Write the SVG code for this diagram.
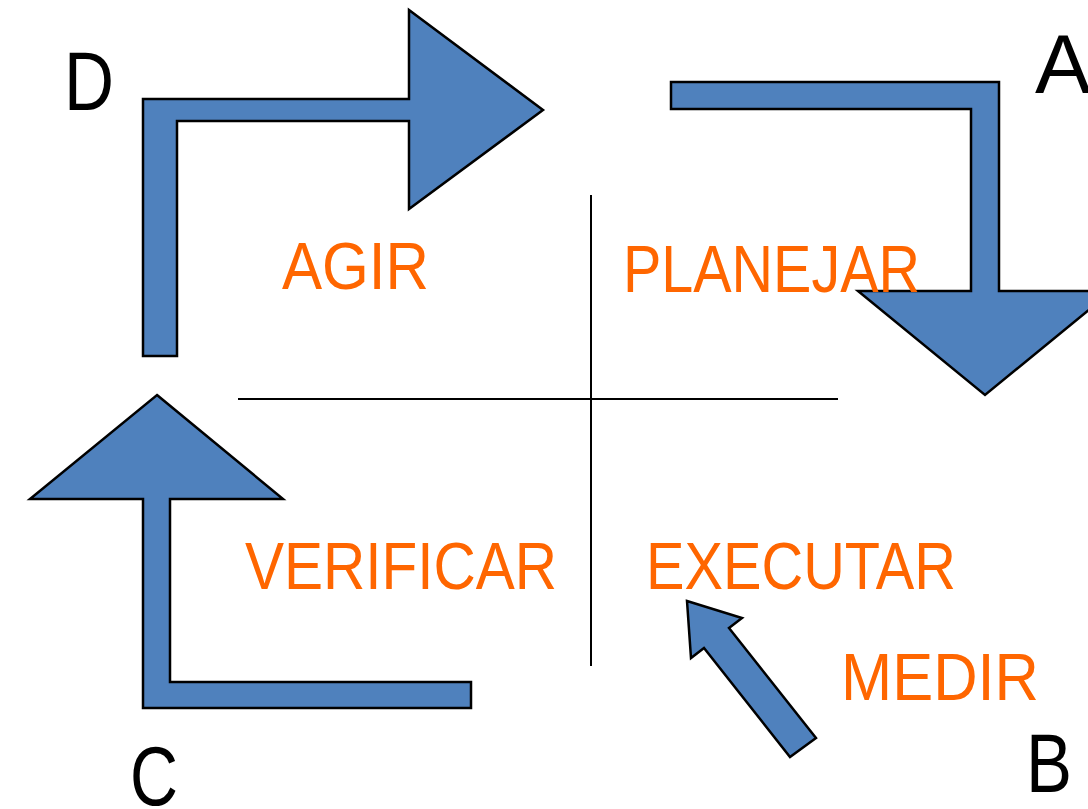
<svg xmlns="http://www.w3.org/2000/svg" width="1088" height="809" viewBox="0 0 1088 809">
  <style>
    .arrow { fill: #4F81BD; stroke: #000; stroke-width: 2.5; stroke-linejoin: miter; }
    .axis { stroke: #000; stroke-width: 2; fill: none; }
    .step { font-family: "Liberation Sans", "Open Sans", sans-serif; font-size: 66px; fill: #FF6600; }
    .corner { font-family: "Liberation Sans", "Open Sans", sans-serif; font-size: 84px; fill: #000; }
  </style>
  <rect width="1088" height="809" fill="#fff"/>

  <!-- quadrant axes -->
  <g id="axes">
    <line class="axis" x1="591" y1="195" x2="591" y2="666"/>
    <line class="axis" x1="238" y1="399" x2="838" y2="399"/>
  </g>

  <!-- cycle arrows -->
  <g id="connectors">
    <polygon id="arrow-d" class="arrow" points="143,356 143,99 409,99 409,10 543,110 409,209 409,121 177,121 177,356"/>
    <polygon id="arrow-a" class="arrow" points="671,82 999,82 999,291 1112,291 985,395 858,291 971,291 971,109 671,109"/>
    <polygon id="arrow-c" class="arrow" points="157,395 283,499 170,499 170,682 471,682 471,708 143,708 143,499 30,499"/>
    <polygon id="arrow-medir" class="arrow" points="687,601 742,618 729,628 816,738 790,757 704,648 691,658"/>
  </g>

  <!-- quadrant labels -->
  <g id="node-agir"><text class="step" x="282" y="289" textLength="147" lengthAdjust="spacingAndGlyphs">AGIR</text></g>
  <g id="node-planejar"><text class="step" x="623" y="292" textLength="297" lengthAdjust="spacingAndGlyphs">PLANEJAR</text></g>
  <g id="node-verificar"><text class="step" x="245" y="589" textLength="312" lengthAdjust="spacingAndGlyphs">VERIFICAR</text></g>
  <g id="node-executar"><text class="step" x="646" y="589" textLength="310" lengthAdjust="spacingAndGlyphs">EXECUTAR</text></g>
  <g id="node-medir"><text class="step" x="841" y="700" textLength="198" lengthAdjust="spacingAndGlyphs">MEDIR</text></g>

  <!-- corner letters -->
  <g id="node-d"><text class="corner" x="64" y="110" textLength="50" lengthAdjust="spacingAndGlyphs">D</text></g>
  <g id="node-a"><text class="corner" x="1035" y="93" textLength="56" lengthAdjust="spacingAndGlyphs">A</text></g>
  <g id="node-b"><text class="corner" x="1026" y="792" textLength="46" lengthAdjust="spacingAndGlyphs">B</text></g>
  <g id="node-c"><text class="corner" x="130" y="805" textLength="48" lengthAdjust="spacingAndGlyphs">C</text></g>
</svg>
